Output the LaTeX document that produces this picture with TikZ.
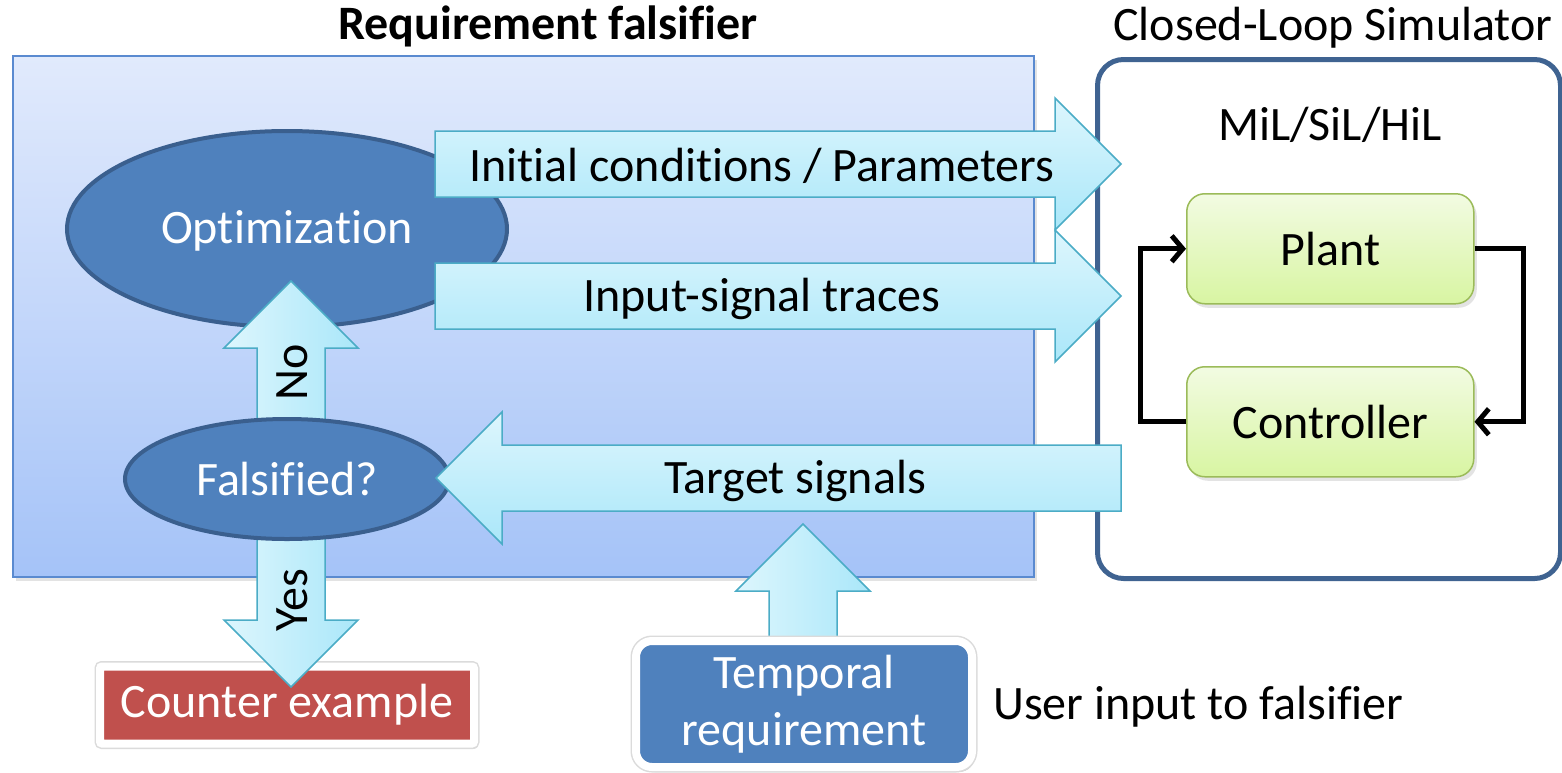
\documentclass[tikz,border=0pt]{standalone}
\usepackage{fontspec}
\setmainfont{Carlito}[Ligatures=NoCommon]
\usetikzlibrary{calc,shadows,arrows.meta,shapes.geometric}

\definecolor{boxtop}{HTML}{E1EAFC}
\definecolor{boxbot}{HTML}{A5C3F8}
\definecolor{boxedge}{HTML}{5A8AD0}
\definecolor{ellfill}{HTML}{4F81BD}
\definecolor{elledge}{HTML}{3A5F8E}
\definecolor{arrtop}{HTML}{DDF6FD}
\definecolor{arrbot}{HTML}{AAE7F9}
\definecolor{arredge}{HTML}{4BACC6}
\definecolor{simedge}{HTML}{3F6391}
\definecolor{grtop}{HTML}{F2FBE2}
\definecolor{grbot}{HTML}{D8F5A2}
\definecolor{gredge}{HTML}{9BBB59}
\definecolor{cered}{HTML}{C0504D}

\tikzset{
  big/.style={font=\fontsize{48}{57}\selectfont},
  bigbold/.style={font=\fontsize{48}{57}\selectfont\bfseries},
  lbl/.style={big, inner sep=0pt},
  softshadow/.style={drop shadow={opacity=0.22, shadow xshift=3pt, shadow yshift=-4pt}},
  frameshadow/.style={drop shadow={opacity=0.40, shadow xshift=3pt, shadow yshift=-5pt},
    preaction={draw=black!14, line width=11pt}},
  falsbox/.style={draw=boxedge, line width=1.5pt, top color=boxtop, bottom color=boxbot,
    softshadow, inner sep=0pt},
  simbox/.style={draw=simedge, line width=5pt, fill=white, rounded corners=26pt, inner sep=0pt},
  greenbox/.style={draw=gredge, line width=1.5pt, top color=grtop, bottom color=grbot,
    rounded corners=18pt, softshadow, inner sep=0pt, big},
  bluell/.style={ellipse, draw=elledge, line width=4pt, fill=ellfill, text=white, inner sep=0pt, big},
  barrow/.style={draw=arredge, line width=1.5pt, line join=miter},
  hshade/.style={top color=arrtop, bottom color=arrbot},
  vshade/.style={left color=arrtop, right color=arrbot},
  loopline/.style={line width=5pt, -{Straight Barb[length=11pt,width=26pt]}},
  cebox/.style={fill=cered, draw=white, line width=8pt, text=white, inner sep=0pt, frameshadow,
    rounded corners=2pt, big},
  tbox/.style={fill=ellfill, draw=white, line width=8pt, text=white, inner sep=0pt, frameshadow,
    rounded corners=16pt, align=center, big},
}

% block arrows: #1 = tail coordinate, #2 = tip coordinate
\newcommand\blockright[2]{%
  \path[barrow, hshade] ($(#1)+(0,-33)$) -- ($(#2)+(-66,-33)$) -- ($(#2)+(-66,-66)$) -- (#2)
    -- ($(#2)+(-66,66)$) -- ($(#2)+(-66,33)$) -- ($(#1)+(0,33)$) -- cycle;}
\newcommand\blockleft[2]{%
  \path[barrow, hshade] ($(#1)+(0,-33)$) -- ($(#2)+(66,-33)$) -- ($(#2)+(66,-66)$) -- (#2)
    -- ($(#2)+(66,66)$) -- ($(#2)+(66,33)$) -- ($(#1)+(0,33)$) -- cycle;}
\newcommand\blockup[2]{%
  \path[barrow, vshade] ($(#1)+(-34,0)$) -- ($(#2)+(-34,67)$) -- ($(#2)+(-67,67)$) -- (#2)
    -- ($(#2)+(67,67)$) -- ($(#2)+(34,67)$) -- ($(#1)+(34,0)$) -- cycle;}
\newcommand\blockdown[2]{%
  \path[barrow, vshade] ($(#1)+(-34,0)$) -- ($(#2)+(-34,-67)$) -- ($(#2)+(-67,-67)$) -- (#2)
    -- ($(#2)+(67,-67)$) -- ($(#2)+(34,-67)$) -- ($(#1)+(34,0)$) -- cycle;}

\begin{document}
\begin{tikzpicture}[x=1pt,y=-1pt]
\useasboundingbox (0,0) rectangle (1562,772);

% titles
\node[bigbold] (title1) at (548,26) {Requirement falsifier};
\node[big] (title2) at (1333,28) {Closed-Loop Simulator};

% falsifier frame
\node[falsbox, anchor=north west, minimum width=1021pt, minimum height=521pt] (fals) at (12,55) {};

% optimisation step
\node[bluell, minimum width=440pt, minimum height=196pt, text depth=4pt] (opt) at (287,229) {Optimization};

% closed-loop simulator
\node[simbox, anchor=north west, minimum width=463pt, minimum height=519pt] (sim) at (1095,57) {};
\node[lbl] (mil) at (1330,125) {MiL/SiL/HiL};
\node[greenbox, anchor=north west, minimum width=287pt, minimum height=110pt] (plant) at (1186,193) {Plant};
\node[greenbox, anchor=north west, minimum width=287pt, minimum height=110pt] (ctrl) at (1186,366) {Controller};
\draw[loopline] (plant.east) -- ++(49,0) |- (ctrl.east);
\draw[loopline] (ctrl.west) -- ++(-46,0) |- (plant.west);

% arrow end points
\coordinate (a1s) at (435,164);  \coordinate (a1e) at (1121,164);
\coordinate (a2s) at (435,296);  \coordinate (a2e) at (1121,296);
\coordinate (a3s) at (1121,478); \coordinate (a3e) at (436,478);
\coordinate (nos) at (291,440);  \coordinate (noe) at (291,281);
\coordinate (yess) at (291,500); \coordinate (yese) at (291,687);
\coordinate (tqs) at (803,650);  \coordinate (tqe) at (803,524);

% outputs of the optimiser
\blockright{a1s}{a1e}
\blockright{a2s}{a2e}
\node[lbl] (l1) at (762,166) {Initial conditions / Parameters};
\node[lbl] (l2) at (762,299) {Input-signal traces};

% "No" feeds back to the optimiser
\blockup{nos}{noe}
\node[lbl, rotate=90] (lno) at (292,372) {No};

% counter example and "Yes" branch
\node[cebox, minimum width=374pt, minimum height=77pt] (ce) at (287,705) {Counter example};
\blockdown{yess}{yese}
\node[lbl, rotate=90] (lyes) at (292,600) {Yes};

% decision
\node[bluell, minimum width=324pt, minimum height=120pt] (fq) at (287,479) {Falsified?};

% target signals back into the falsifier
\blockleft{a3s}{a3e}
\node[lbl] (l3) at (795,481) {Target signals};

% user input
\blockup{tqs}{tqe}
\node[tbox, minimum width=336pt, minimum height=126pt] (treq) at (804,704) {Temporal\\requirement};
\node[lbl, anchor=west] (user) at (993,707) {User input to falsifier};
\end{tikzpicture}
\end{document}
